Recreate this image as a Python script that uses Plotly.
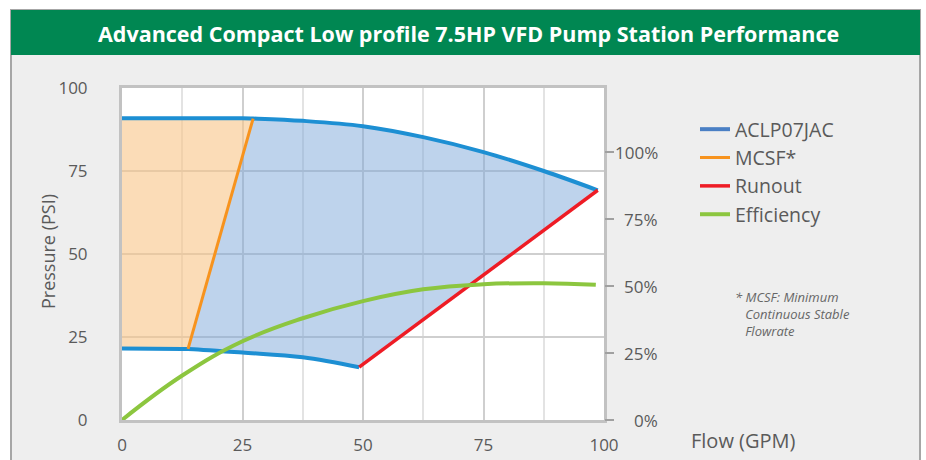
import plotly.graph_objects as go

# ---------------- data ----------------
flow_upper = [0, 12.5, 25, 27.2, 37.5, 50, 62.5, 75, 87.5, 98.7]
psi_upper = [90.9, 90.9, 90.9, 90.8, 90.1, 88.5, 85.2, 80.7, 75.0, 69.2]

flow_lower = [0, 12.5, 13.7, 25, 37.5, 49.2]
psi_lower = [21.5, 21.4, 21.4, 20.3, 18.9, 15.9]

flow_mcsf = [13.7, 27.2]
psi_mcsf = [21.4, 90.8]

flow_runout = [49.2, 98.7]
psi_runout = [15.9, 69.2]

flow_eff = [0, 12.5, 25, 37.5, 50, 62.5, 75, 87.5, 98.3]
eff_pct = [0, 16.6, 29.4, 38.0, 44.4, 48.8, 50.7, 51.1, 50.5]

x_ticks = [0, 25, 50, 75, 100]
y_ticks = [0, 25, 50, 75, 100]
pct_ticks = [0, 25, 50, 75, 100]
pct_labels = ["0%", "25%", "50%", "75%", "100%"]

series_names = ["ACLP07JAC", "MCSF*", "Runout", "Efficiency"]
title_text = "Advanced Compact Low profile 7.5HP VFD Pump Station Performance"
note_text = "* MCSF: Minimum<br>   Continuous Stable<br>   Flowrate"

# ---------------- layout geometry ----------------
W, H = 926, 460
L, R, T, B = 122, 604, 88, 420
pw, ph = R - L, B - T


def px(x):
    return (x - L) / pw


def py(y):
    return (B - y) / ph


BLUE = "#1d8fd3"
BLUE_LEG = "#4a7fc4"
ORANGE = "#f7931e"
RED = "#ee1c25"
GREEN = "#8cc63f"
FONT = "Open Sans"
TXT = "#5a5a5a"

# polygons built from the data arrays
mcsf_top = flow_mcsf[1]
mcsf_bot = flow_mcsf[0]
orange_x = ([f for f in flow_lower if f <= mcsf_bot] + [flow_mcsf[1]] +
            [f for f in reversed(flow_upper) if f < mcsf_top])
orange_y = ([p for f, p in zip(flow_lower, psi_lower) if f <= mcsf_bot] + [psi_mcsf[1]] +
            [p for f, p in zip(reversed(flow_upper), reversed(psi_upper)) if f < mcsf_top])

blue_x = ([f for f in flow_lower if f >= mcsf_bot] + [flow_runout[1]] +
          [f for f in reversed(flow_upper) if f >= mcsf_top])
blue_y = ([p for f, p in zip(flow_lower, psi_lower) if f >= mcsf_bot] + [psi_runout[1]] +
          [p for f, p in zip(reversed(flow_upper), reversed(psi_upper)) if f >= mcsf_top])

fig = go.Figure()

fig.add_trace(go.Scatter(x=orange_x, y=orange_y, fill="toself", mode="lines",
                         line=dict(width=0), fillcolor="rgba(249,196,135,0.6)",
                         showlegend=False, hoverinfo="skip"))
fig.add_trace(go.Scatter(x=blue_x, y=blue_y, fill="toself", mode="lines",
                         line=dict(width=0), fillcolor="rgba(125,168,218,0.5)",
                         showlegend=False, hoverinfo="skip"))

# lines
fig.add_trace(go.Scatter(x=flow_upper, y=psi_upper, mode="lines", name=series_names[0],
                         line=dict(color=BLUE, width=4, shape="spline"), showlegend=False))
fig.add_trace(go.Scatter(x=flow_lower, y=psi_lower, mode="lines", name=series_names[0],
                         line=dict(color=BLUE, width=4, shape="spline"), showlegend=False))
fig.add_trace(go.Scatter(x=flow_mcsf, y=psi_mcsf, mode="lines", name=series_names[1],
                         line=dict(color=ORANGE, width=3), legendrank=2, legendgroup="b"))
fig.add_trace(go.Scatter(x=flow_runout, y=psi_runout, mode="lines", name=series_names[2],
                         line=dict(color=RED, width=3.5), legendrank=3, legendgroup="c"))
fig.add_trace(go.Scatter(x=flow_eff, y=eff_pct, mode="lines", name=series_names[3], yaxis="y2",
                         line=dict(color=GREEN, width=4, shape="spline", smoothing=1.2),
                         legendrank=4, legendgroup="d"))
# legend entry for the pump curve (legend swatch uses a slightly different blue)
fig.add_trace(go.Scatter(x=[None], y=[None], mode="lines", name=series_names[0],
                         line=dict(color=BLUE_LEG, width=4), legendrank=1, legendgroup="a"))

shapes = [
    # outer gray panel
    dict(type="rect", xref="paper", yref="paper", x0=px(11), x1=px(920), y0=py(10), y1=py(475),
         fillcolor="#eeeeee", line=dict(color="#a6a6a6", width=2), layer="below"),
    # green header
    dict(type="rect", xref="paper", yref="paper", x0=px(11), x1=px(920), y0=py(10), y1=py(55),
         fillcolor="#008752", line=dict(width=0), layer="below"),
    # white plot area
    dict(type="rect", xref="paper", yref="paper", x0=0, x1=1, y0=0, y1=1,
         fillcolor="white", line=dict(width=0), layer="below"),
]

annotations = [
    dict(text="<b>" + title_text + "</b>", xref="paper", yref="paper", x=px(468), y=py(34),
         showarrow=False, font=dict(family=FONT, size=21.5, color="white"),
         xanchor="center", yanchor="middle"),
    dict(text="Flow (GPM)", xref="paper", yref="paper", x=px(689), y=py(441),
         showarrow=False, font=dict(family=FONT, size=20, color=TXT),
         xanchor="left", yanchor="middle"),
    dict(text="Pressure (PSI)", xref="paper", yref="paper", x=px(48), y=py(252),
         showarrow=False, textangle=-90, font=dict(family=FONT, size=18, color=TXT),
         xanchor="center", yanchor="middle"),
    dict(text="<i>" + note_text + "</i>", xref="paper", yref="paper", x=px(733), y=py(286),
         showarrow=False, font=dict(family=FONT, size=13, color="#666666"),
         xanchor="left", yanchor="top", align="left"),
]
for v, lab in zip(pct_ticks, pct_labels):
    annotations.append(dict(text=lab, xref="paper", yref="y2", x=px(660), y=v,
                            showarrow=False, font=dict(family=FONT, size=17, color=TXT),
                            xanchor="right", yanchor="middle"))

fig.update_layout(
    width=W, height=H,
    margin=dict(l=L, r=W - R, t=T, b=H - B, pad=0, autoexpand=False),
    paper_bgcolor="white",
    plot_bgcolor="rgba(0,0,0,0)",
    font=dict(family=FONT, color=TXT),
    shapes=shapes,
    annotations=annotations,
    showlegend=True,
    legend=dict(x=px(695), y=py(110), xanchor="left", yanchor="top",
                bgcolor="rgba(0,0,0,0)", font=dict(family=FONT, size=19.5, color=TXT),
                tracegroupgap=0, itemwidth=30, traceorder="grouped"),
    xaxis=dict(range=[0, 100], tickvals=x_ticks, showgrid=True, gridcolor="#cfcfcf", gridwidth=2,
               minor=dict(dtick=12.5, tick0=0, showgrid=True, gridcolor="#e3e3e3", gridwidth=2),
               showline=True, linecolor="#c2c2c2", linewidth=3, mirror=True,
               ticks="", ticklabelstandoff=8, tickfont=dict(family=FONT, size=17, color=TXT),
               zeroline=False, fixedrange=True, automargin=False),
    yaxis=dict(range=[0, 100], tickvals=y_ticks, showgrid=True, gridcolor="#cfcfcf", gridwidth=2,
               showline=True, linecolor="#c2c2c2", linewidth=3, mirror=True,
               ticks="", ticklabelstandoff=28, tickfont=dict(family=FONT, size=17, color=TXT),
               zeroline=False, fixedrange=True, automargin=False),
    yaxis2=dict(range=[0, 124], overlaying="y", side="right", tickvals=pct_ticks,
                showticklabels=False, ticks="outside", ticklen=9, tickwidth=1.5,
                tickcolor="#a0a0a0", showgrid=False, showline=False, zeroline=False,
                fixedrange=True, automargin=False),
)

fig.write_html("out.html", config={"displayModeBar": False},
               post_script="document.body.style.margin='0';")
